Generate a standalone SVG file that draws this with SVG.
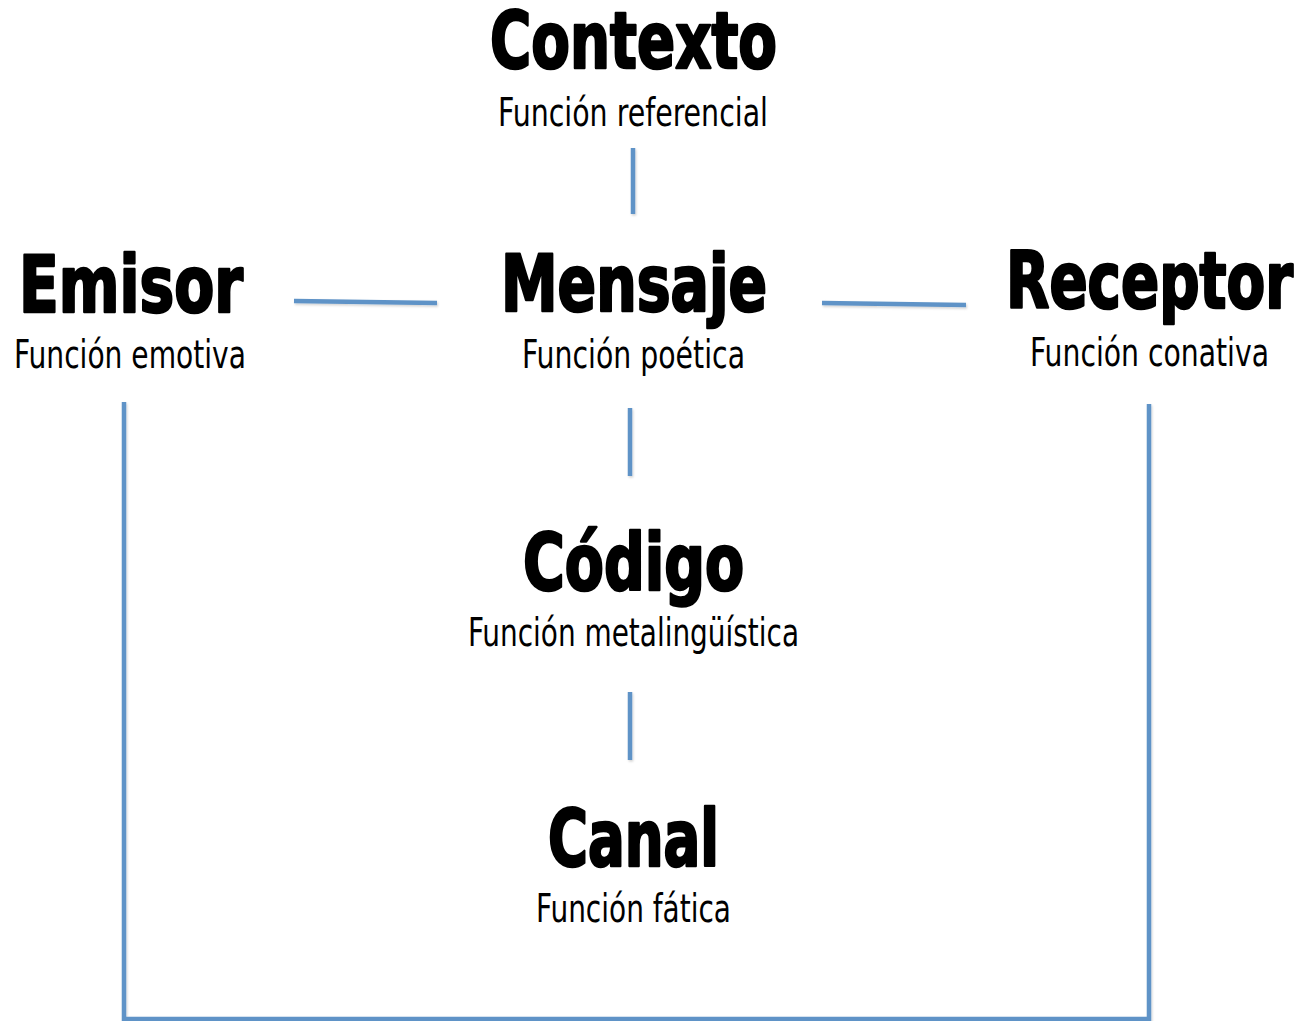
<svg xmlns="http://www.w3.org/2000/svg" width="1305" height="1021" viewBox="0 0 1305 1021">
<style>
.t{font-family:"Liberation Sans Narrow","DejaVu Sans Condensed","DejaVu Sans",sans-serif;font-weight:bold;font-size:78px;fill:#000;stroke:#000;stroke-width:2.5px;stroke-linejoin:round;font-stretch:condensed;text-anchor:start}
.s{font-family:"Liberation Sans Narrow","DejaVu Sans Condensed","Liberation Sans",sans-serif;font-size:39px;fill:#000;font-stretch:condensed;text-anchor:start}
.c{fill:none;stroke:#5f93c7;stroke-width:4.5;filter:url(#sh)}
</style>
<defs>
<filter id="sh" filterUnits="userSpaceOnUse" x="0" y="0" width="1305" height="1021">
<feDropShadow dx="1" dy="1.5" stdDeviation="1.2" flood-color="#000" flood-opacity="0.18"/>
</filter>
</defs>
<rect width="1305" height="1021" fill="#fff"/>
<g id="connectors">
<line class="c" x1="633" y1="148" x2="633" y2="214"/>
<line class="c" x1="294" y1="301" x2="437" y2="303"/>
<line class="c" x1="822" y1="303" x2="966" y2="305"/>
<line class="c" x1="630" y1="408" x2="630" y2="476"/>
<line class="c" x1="630" y1="692" x2="630" y2="760"/>
<polyline class="c" points="124,402 124,1019 1149,1019 1149,404"/>
</g>
<g id="contexto">
<text class="t" x="490" y="68" textLength="287" lengthAdjust="spacingAndGlyphs">Contexto</text>
<text class="s" x="498" y="126" textLength="270" lengthAdjust="spacingAndGlyphs">Función referencial</text>
</g>
<g id="emisor">
<text class="t" x="19" y="312" textLength="224" lengthAdjust="spacingAndGlyphs">Emisor</text>
<text class="s" x="14" y="368" textLength="232" lengthAdjust="spacingAndGlyphs">Función emotiva</text>
</g>
<g id="mensaje">
<text class="t" x="501" y="311" textLength="266" lengthAdjust="spacingAndGlyphs">Mensaje</text>
<text class="s" x="522" y="368" textLength="223" lengthAdjust="spacingAndGlyphs">Función poética</text>
</g>
<g id="receptor">
<text class="t" x="1006" y="308" textLength="287" lengthAdjust="spacingAndGlyphs">Receptor</text>
<text class="s" x="1030" y="366" textLength="239" lengthAdjust="spacingAndGlyphs">Función conativa</text>
</g>
<g id="codigo">
<text class="t" x="523" y="590" textLength="221" lengthAdjust="spacingAndGlyphs">Código</text>
<text class="s" x="468" y="646" textLength="331" lengthAdjust="spacingAndGlyphs">Función metalingüística</text>
</g>
<g id="canal">
<text class="t" x="548" y="866" textLength="171" lengthAdjust="spacingAndGlyphs">Canal</text>
<text class="s" x="536" y="922" textLength="195" lengthAdjust="spacingAndGlyphs">Función fática</text>
</g>
</svg>
